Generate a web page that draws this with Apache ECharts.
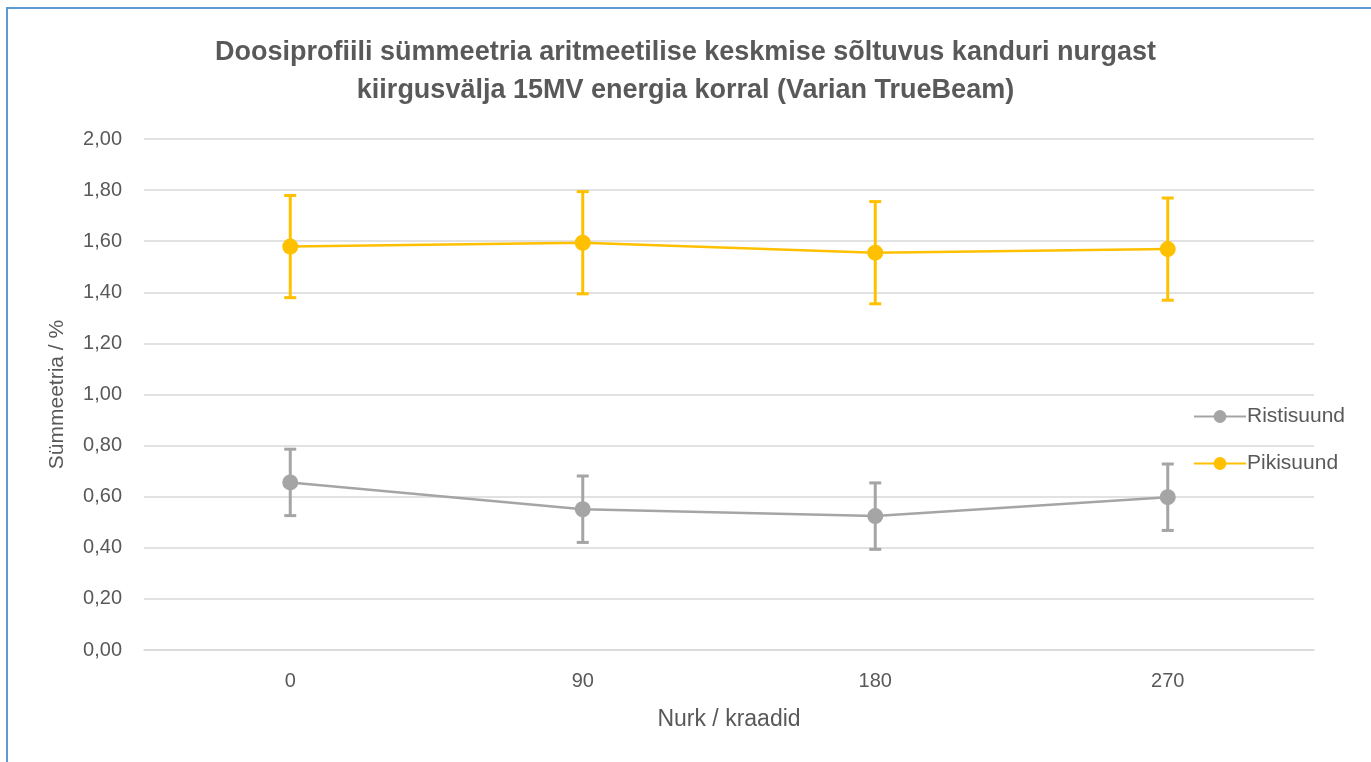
<!DOCTYPE html>
<html>
<head>
<meta charset="utf-8">
<script src="https://cdn.jsdelivr.net/npm/echarts@6/dist/echarts.min.js"></script>
<style>
html,body{margin:0;padding:0;background:#fff;}
#chart{width:1371px;height:762px;}
</style>
</head>
<body>
<div id="chart"></div>
<script>
var categories = ['0', '90', '180', '270'];
var ristisuund = [0.656, 0.551, 0.524, 0.598];
var ristisuundErr = [0.13, 0.13, 0.13, 0.13];
var pikisuund = [1.579, 1.594, 1.555, 1.569];
var pikisuundErr = [0.20, 0.20, 0.20, 0.20];
var seriesNames = ['Ristisuund', 'Pikisuund'];
var titleText = 'Doosiprofiili sümmeetria aritmeetilise keskmise sõltuvus kanduri nurgast\nkiirgusvälja 15MV energia korral (Varian TrueBeam)';

var GRAY = '#A5A5A5', GOLD = '#FFC000', TXT = '#595959';
var FONT = 'Liberation Sans';

function errData(vals, errs) {
  return vals.map(function (v, i) { return [i, v - errs[i], v + errs[i]]; });
}
function errRender(color) {
  return function (params, api) {
    var x = api.value(0);
    var lo = api.coord([x, api.value(1)]);
    var hi = api.coord([x, api.value(2)]);
    var hw = 6;
    var st = { stroke: color, lineWidth: 3 };
    return {
      type: 'group',
      children: [
        { type: 'line', shape: { x1: hi[0], y1: hi[1], x2: lo[0], y2: lo[1] }, style: st },
        { type: 'line', shape: { x1: hi[0] - hw, y1: hi[1], x2: hi[0] + hw, y2: hi[1] }, style: st },
        { type: 'line', shape: { x1: lo[0] - hw, y1: lo[1], x2: lo[0] + hw, y2: lo[1] }, style: st }
      ]
    };
  };
}

var chart = echarts.init(document.getElementById('chart'), null, { renderer: 'canvas' });
chart.setOption({
  backgroundColor: '#ffffff',
  animation: false,
  textStyle: { fontFamily: FONT },
  graphic: [{
    type: 'rect',
    shape: { x: 7, y: 8, width: 1400, height: 800 },
    style: { fill: 'none', stroke: '#5B9BD5', lineWidth: 2 },
    silent: true
  }],
  title: {
    text: titleText,
    left: 'center',
    top: 29,
    textStyle: { fontFamily: FONT, fontWeight: 'bold', fontSize: 27, color: TXT, lineHeight: 38 }
  },
  legend: {
    orient: 'vertical',
    left: 1188,
    top: 401,
    itemGap: 26,
    itemWidth: 52,
    itemHeight: 16,
    data: seriesNames,
    textStyle: { fontFamily: FONT, fontSize: 21, color: TXT, padding: [0, 0, 0, -4] }
  },
  grid: { left: 144, right: 57, top: 139, bottom: 112, containLabel: false },
  xAxis: {
    type: 'category',
    data: categories,
    boundaryGap: true,
    name: 'Nurk / kraadid',
    nameLocation: 'middle',
    nameGap: 58,
    nameTextStyle: { fontFamily: FONT, fontSize: 23, color: TXT },
    axisLine: { show: true, lineStyle: { color: '#D9D9D9', width: 1.5 } },
    axisTick: { show: false },
    axisLabel: { fontFamily: FONT, fontSize: 20, color: TXT, margin: 21 }
  },
  yAxis: {
    type: 'value',
    min: 0, max: 2, interval: 0.2,
    name: 'Sümmeetria / %',
    nameLocation: 'middle',
    nameGap: 76,
    nameTextStyle: { fontFamily: FONT, fontSize: 21, color: TXT },
    axisLine: { show: false },
    axisTick: { show: false },
    splitLine: { lineStyle: { color: '#D9D9D9', width: 1.5 } },
    axisLabel: {
      fontFamily: FONT, fontSize: 20, color: TXT, margin: 22,
      formatter: function (v) { return v.toFixed(2).replace('.', ','); }
    }
  },
  series: [
    {
      type: 'custom', name: 'errR', renderItem: errRender(GRAY),
      data: errData(ristisuund, ristisuundErr), z: 2, silent: true,
      encode: { x: 0, y: [1, 2] }
    },
    {
      type: 'custom', name: 'errP', renderItem: errRender(GOLD),
      data: errData(pikisuund, pikisuundErr), z: 2, silent: true,
      encode: { x: 0, y: [1, 2] }
    },
    {
      type: 'line', name: seriesNames[0], data: ristisuund, z: 3,
      symbol: 'circle', symbolSize: 16,
      itemStyle: { color: GRAY },
      lineStyle: { color: GRAY, width: 2.5 }
    },
    {
      type: 'line', name: seriesNames[1], data: pikisuund, z: 3,
      symbol: 'circle', symbolSize: 16,
      itemStyle: { color: GOLD },
      lineStyle: { color: GOLD, width: 2.5 }
    }
  ]
});
</script>
</body>
</html>
